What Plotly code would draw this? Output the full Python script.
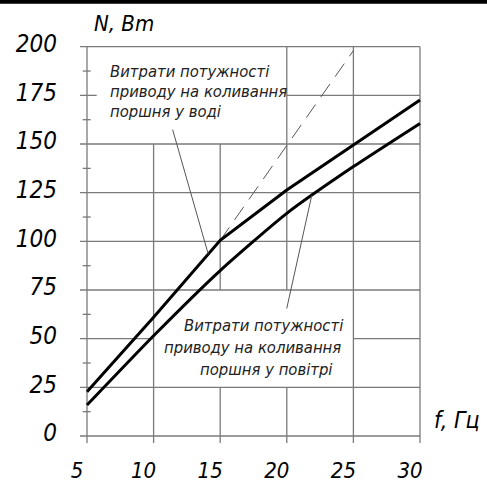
import plotly.graph_objects as go

# ---- data ----
freq = [5, 10, 15, 20, 25, 30]
power_water = [22.7, 61, 100.5, 126.4, 149.5, 172.6]   # upper curve (in water)
power_air = [15.9, 51.5, 85, 114.4, 138.4, 160.6]      # lower curve (in air)
extrap_freq = [15, 25]
extrap_power = [100.5, 198]

x_ticks = [5, 10, 15, 20, 25, 30]
y_ticks = [0, 25, 50, 75, 100, 125, 150, 175, 200]
y_minor = [12.5, 37.5, 62.5, 87.5, 112.5, 137.5, 162.5, 187.5]

label_water = ["Витрати потужності", "приводу на коливання", "поршня у воді"]
label_air = ["Витрати потужності", "приводу на коливання", "поршня у повітрі"]

FONT = "DejaVu Sans Condensed, Liberation Sans Narrow, DejaVu Sans, sans-serif"
GRID = "#7a7a7a"

# ---- layout geometry (screen px of the reference) ----
W, H = 487, 484
PL, PT, PW, PH = 76, 40, 350, 406   # plot area on screen
ML, MT = PL, PT
MR, MB = W - ML - PW, H - MT - PH
sx = 333 / 25.0           # px per Hz
sy = 389.3 / 200.0        # px per W
x0 = 5 - 11 / sx
x1 = x0 + PW / sx
y0 = 0 - 10 / sy
y1 = y0 + PH / sy
xl = 5 - 7 / sx           # left stub of horizontal grid lines
yb = 0 - 7 / sy           # bottom stub of vertical grid lines


def px_x(p):
    return (p - PL) / PW


def px_y(p):
    return (PT + PH - p) / PH


# grid segments (value, start, end)
h_segments = [(0, xl, 30), (25, xl, 30), (50, xl, 10), (50, 25, 30), (75, xl, 30),
              (100, xl, 30), (125, xl, 30), (150, xl, 30), (175, xl, 5 + 9.7 / sx),
              (175, 20, 30), (200, xl, 30)]
v_segments = [(5, yb, 200), (10, yb, 150), (15, yb, 25), (15, 75, 150), (20, yb, 25),
              (20, 75, 200), (25, yb, 200), (30, yb, 200)]

shapes = []
# thick top border line (filled strip across the page), in both paper layers
for lyr in ("below", "above"):
    shapes.append(dict(type="rect", xref="paper", yref="paper", x0=-0.22, x1=1.18,
                       y0=1.0899, y1=1.0985, fillcolor="black", line=dict(width=0),
                       layer=lyr))
for yv, a, b in h_segments:
    shapes.append(dict(type="line", xref="x", yref="y", x0=a, x1=b, y0=yv, y1=yv,
                       line=dict(color=GRID, width=1.3), layer="below"))
for xv, a, b in v_segments:
    shapes.append(dict(type="line", xref="x", yref="y", x0=xv, x1=xv, y0=a, y1=b,
                       line=dict(color=GRID, width=1.3), layer="below"))
for yv in y_minor:
    shapes.append(dict(type="line", xref="x", yref="y", x0=5 - 4.3 / sx, x1=5 + 3.7 / sx,
                       y0=yv, y1=yv, line=dict(color=GRID, width=1.3), layer="below"))

fig = go.Figure()
fig.add_trace(go.Scatter(x=extrap_freq, y=extrap_power, mode="lines",
                         line=dict(color="#555555", width=1, dash="16px,9px"),
                         hoverinfo="skip", showlegend=False))
fig.add_trace(go.Scatter(x=freq, y=power_water, mode="lines",
                         line=dict(color="black", width=3), showlegend=False))
fig.add_trace(go.Scatter(x=freq, y=power_air, mode="lines",
                         line=dict(color="black", width=3, shape="spline", smoothing=0.6),
                         showlegend=False))

ann = []
# leader lines
ann.append(dict(x=14.1, y=93.5, ax=11.4, ay=158.1, xref="x", yref="y", axref="x", ayref="y",
                text="", showarrow=True, arrowhead=0, arrowwidth=1, arrowcolor="#555555"))
ann.append(dict(x=21.87, y=123.5, ax=19.97, ay=64.7, xref="x", yref="y", axref="x", ayref="y",
                text="", showarrow=True, arrowhead=0, arrowwidth=1, arrowcolor="#555555"))

tf = dict(family=FONT, size=16.5, color="#222222", style="italic")
for txt, yv in zip(label_water, [187.5, 177.2, 166.5]):
    ann.append(dict(x=5 + 21 / sx, y=yv, xref="x", yref="y", text=txt, showarrow=False,
                    xanchor="left", yanchor="middle", font=tf))
for txt, xv, yv in zip(label_air, [18.29, 17.46, 18.51], [57.0, 45.7, 34.4]):
    ann.append(dict(x=xv, y=yv, xref="x", yref="y", text=txt, showarrow=False,
                    xanchor="center", yanchor="middle", font=tf))

# axis titles
ann.append(dict(x=px_x(92), y=px_y(23), xref="paper", yref="paper", text="N, Bm",
                showarrow=False, xanchor="left", yanchor="middle",
                font=dict(family=FONT, size=22, color="black", style="italic")))
ann.append(dict(x=px_x(432), y=px_y(420), xref="paper", yref="paper", text="f, Гц",
                showarrow=False, xanchor="left", yanchor="middle",
                font=dict(family=FONT, size=23, color="black", style="italic")))

fig.update_layout(
    width=W, height=H, margin=dict(l=ML, r=MR, t=MT, b=MB, autoexpand=False),
    paper_bgcolor="white", plot_bgcolor="white",
    shapes=shapes, annotations=ann,
    xaxis=dict(range=[x0, x1], tickvals=x_ticks, ticktext=[str(v) for v in x_ticks],
               showgrid=False, zeroline=False, showline=False, ticks="", automargin=False,
               ticklabelstandoff=9, ticklabelshift=-10,
               tickfont=dict(family=FONT, size=22, color="black", style="italic")),
    yaxis=dict(range=[y0, y1], tickvals=y_ticks, ticktext=[str(v) for v in y_ticks],
               showgrid=False, zeroline=False, showline=False, ticks="", automargin=False,
               ticklabelstandoff=18, ticklabelshift=-3,
               tickfont=dict(family=FONT, size=24, color="black", style="italic")),
)

fig.write_html("out.html", config={"displayModeBar": False},
               post_script="document.body.style.margin='0';document.body.style.overflow='hidden';")
